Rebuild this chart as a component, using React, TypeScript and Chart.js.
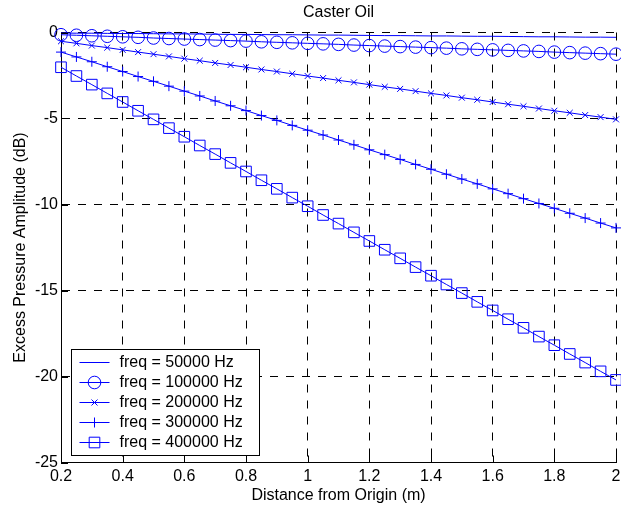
import React, { useEffect, useRef } from "react";
import { Chart, registerables } from "chart.js";

Chart.register(...registerables);

// ---------- data ----------
const distances = [
  0.2, 0.25, 0.3, 0.35, 0.4, 0.45, 0.5, 0.55, 0.6, 0.65, 0.7, 0.75, 0.8, 0.85,
  0.9, 0.95, 1.0, 1.05, 1.1, 1.15, 1.2, 1.25, 1.3, 1.35, 1.4, 1.45, 1.5, 1.55,
  1.6, 1.65, 1.7, 1.75, 1.8, 1.85, 1.9, 1.95, 2.0,
];

const freq50k = [
  -0.03, -0.04, -0.04, -0.05, -0.06, -0.06, -0.07, -0.08, -0.08, -0.09, -0.1,
  -0.11, -0.11, -0.12, -0.13, -0.13, -0.14, -0.15, -0.15, -0.16, -0.17, -0.18,
  -0.18, -0.19, -0.2, -0.2, -0.21, -0.22, -0.22, -0.23, -0.24, -0.25, -0.25,
  -0.26, -0.27, -0.27, -0.28,
];

const freq100k = [
  -0.13, -0.16, -0.19, -0.22, -0.25, -0.28, -0.32, -0.35, -0.38, -0.41, -0.44,
  -0.47, -0.5, -0.54, -0.57, -0.6, -0.63, -0.66, -0.69, -0.73, -0.76, -0.79,
  -0.82, -0.85, -0.88, -0.91, -0.95, -0.98, -1.01, -1.04, -1.07, -1.1, -1.14,
  -1.17, -1.2, -1.23, -1.26,
];

const freq200k = [
  -0.51, -0.63, -0.76, -0.88, -1.01, -1.14, -1.26, -1.39, -1.52, -1.64, -1.77,
  -1.89, -2.02, -2.15, -2.27, -2.4, -2.53, -2.65, -2.78, -2.9, -3.03, -3.16,
  -3.28, -3.41, -3.54, -3.66, -3.79, -3.91, -4.04, -4.17, -4.29, -4.42, -4.55,
  -4.67, -4.8, -4.92, -5.05,
];

const freq300k = [
  -1.14, -1.42, -1.7, -1.99, -2.27, -2.56, -2.84, -3.12, -3.41, -3.69, -3.98,
  -4.26, -4.54, -4.83, -5.11, -5.4, -5.68, -5.96, -6.25, -6.53, -6.82, -7.1,
  -7.38, -7.67, -7.95, -8.24, -8.52, -8.8, -9.09, -9.37, -9.66, -9.94, -10.22,
  -10.51, -10.79, -11.08, -11.36,
];

const freq400k = [
  -2.02, -2.53, -3.03, -3.54, -4.04, -4.55, -5.05, -5.56, -6.06, -6.57, -7.07,
  -7.58, -8.08, -8.59, -9.09, -9.6, -10.1, -10.61, -11.11, -11.62, -12.12,
  -12.63, -13.13, -13.64, -14.14, -14.65, -15.15, -15.66, -16.16, -16.67,
  -17.17, -17.68, -18.18, -18.69, -19.19, -19.7, -20.2,
];

const seriesLabels = [
  "freq = 50000 Hz",
  "freq = 100000 Hz",
  "freq = 200000 Hz",
  "freq = 300000 Hz",
  "freq = 400000 Hz",
];

const xTickValues = [0.2, 0.4, 0.6, 0.8, 1, 1.2, 1.4, 1.6, 1.8, 2];
const xTickLabels = ["0.2", "0.4", "0.6", "0.8", "1", "1.2", "1.4", "1.6", "1.8", "2"];
const yTickValues = [-25, -20, -15, -10, -5, 0];
const yTickLabels = ["-25", "-20", "-15", "-10", "-5", "0"];

const chartTitle = "Caster Oil";
const xAxisTitle = "Distance from Origin (m)";
const yAxisTitle = "Excess Pressure Amplitude (dB)";

// ---------- styles ----------
const BLUE = "rgb(0,0,255)";
const FONT = '"Liberation Sans", Arial, Helvetica, sans-serif';
const markerStyles = ["none", "circle", "crossRot", "cross", "rect"];
const markerRadii = [0, 6.3, 4.2, 5, 7.5];

function drawMarker(ctx: CanvasRenderingContext2D, style: string, x: number, y: number) {
  ctx.beginPath();
  if (style === "circle") {
    ctx.arc(x, y, 6.3, 0, Math.PI * 2);
  } else if (style === "crossRot") {
    const d = 3;
    ctx.moveTo(x - d, y - d);
    ctx.lineTo(x + d, y + d);
    ctx.moveTo(x - d, y + d);
    ctx.lineTo(x + d, y - d);
  } else if (style === "cross") {
    ctx.moveTo(x - 5, y);
    ctx.lineTo(x + 5, y);
    ctx.moveTo(x, y - 5);
    ctx.lineTo(x, y + 5);
  } else if (style === "rect") {
    ctx.rect(x - 5.3, y - 5.3, 10.6, 10.6);
  }
  ctx.stroke();
}

const inwardTicks = {
  id: "inwardTicks",
  afterDatasetsDraw(chart: any) {
    const { ctx, chartArea, scales } = chart;
    ctx.save();
    ctx.setLineDash([]);
    ctx.strokeStyle = "#000";
    ctx.lineWidth = 1;
    ctx.beginPath();
    xTickValues.forEach((v) => {
      const px = Math.round(scales.x.getPixelForValue(v)) + 0.5;
      ctx.moveTo(px, chartArea.bottom);
      ctx.lineTo(px, chartArea.bottom - 7);
    });
    yTickValues.forEach((v) => {
      const py = Math.round(scales.y.getPixelForValue(v)) + 0.5;
      ctx.moveTo(chartArea.left, py);
      ctx.lineTo(chartArea.left + 7, py);
    });
    ctx.stroke();
    ctx.restore();
  },
};

const areaTitle = {
  id: "areaTitle",
  afterDraw(chart: any) {
    const { ctx, chartArea } = chart;
    ctx.save();
    ctx.font = `16px ${FONT}`;
    ctx.fillStyle = "#000";
    ctx.textAlign = "center";
    ctx.textBaseline = "middle";
    ctx.fillText(chartTitle, (chartArea.left + chartArea.right) / 2, chartArea.top - 20);
    ctx.restore();
  },
};

const boxLegend = {
  id: "boxLegend",
  afterDraw(chart: any) {
    const { ctx, chartArea } = chart;
    const left = Math.round(chartArea.left) + 10.5;
    const width = 188;
    const height = 106;
    const top = Math.round(chartArea.bottom) - 8 - height + 0.5;
    ctx.save();
    ctx.setLineDash([]);
    ctx.fillStyle = "#fff";
    ctx.fillRect(left, top, width, height);
    ctx.strokeStyle = "#000";
    ctx.lineWidth = 1;
    ctx.strokeRect(left, top, width, height);
    ctx.font = `16px ${FONT}`;
    ctx.textBaseline = "middle";
    ctx.textAlign = "left";
    seriesLabels.forEach((label, i) => {
      const y = top + 13 + i * 20;
      ctx.strokeStyle = BLUE;
      ctx.beginPath();
      ctx.moveTo(left + 8, y);
      ctx.lineTo(left + 38, y);
      ctx.stroke();
      drawMarker(ctx, markerStyles[i], left + 23, y);
      ctx.fillStyle = "#000";
      ctx.fillText(label, left + 48, y);
    });
    ctx.restore();
  },
};

export default function App() {
  const canvasRef = useRef<HTMLCanvasElement | null>(null);

  useEffect(() => {
    if (!canvasRef.current) return;
    const seriesValues = [freq50k, freq100k, freq200k, freq300k, freq400k];
    const chart = new Chart(canvasRef.current, {
      type: "line",
      data: {
        datasets: seriesValues.map((vals, i) => ({
          label: seriesLabels[i],
          data: distances.map((x, j) => ({ x, y: vals[j] })),
          borderColor: BLUE,
          backgroundColor: "transparent",
          borderWidth: 1,
          pointStyle: markerStyles[i] === "none" ? false : markerStyles[i],
          pointRadius: markerRadii[i],
          pointHoverRadius: markerRadii[i],
          pointBorderWidth: 1,
          pointBorderColor: BLUE,
          pointBackgroundColor: "transparent",
          tension: 0,
          fill: false,
          clip: false,
        })) as any,
      },
      options: {
        responsive: false,
        animation: false,
        events: [],
        layout: { autoPadding: false, padding: { left: 0, right: 5, top: 32.5, bottom: 0 } },
        plugins: {
          legend: { display: false },
          tooltip: { enabled: false },
          title: { display: false },
        },
        scales: {
          x: {
            type: "linear",
            min: 0.2,
            max: 2,
            afterBuildTicks: (scale: any) => {
              scale.ticks = xTickValues.map((v) => ({ value: v }));
            },
            afterFit: (scale: any) => {
              scale.height = 49.5;
              scale.paddingLeft = 0;
              scale.paddingRight = 0;
            },
            ticks: {
              autoSkip: false,
              maxRotation: 0,
              padding: 4,
              color: "#000",
              font: { family: FONT, size: 16 },
              callback: (_v: any, idx: number) => xTickLabels[idx],
            },
            grid: { color: "#000", lineWidth: 1, drawTicks: false },
            border: { display: true, color: "#000", width: 1, dash: [8, 8] },
            title: {
              display: true,
              text: xAxisTitle,
              color: "#000",
              font: { family: FONT, size: 16 },
              padding: { top: 0, bottom: 6.4 },
            },
          },
          y: {
            type: "linear",
            min: -25,
            max: 0,
            afterBuildTicks: (scale: any) => {
              scale.ticks = yTickValues.map((v) => ({ value: v }));
            },
            afterFit: (scale: any) => {
              scale.width = 61;
              scale.paddingTop = 0;
              scale.paddingBottom = 0;
            },
            ticks: {
              padding: 3,
              color: "#000",
              font: { family: FONT, size: 16 },
              callback: (_v: any, idx: number) => yTickLabels[idx],
            },
            grid: { color: "#000", lineWidth: 1, drawTicks: false },
            border: { display: true, color: "#000", width: 1, dash: [8, 8] },
            title: {
              display: true,
              text: yAxisTitle,
              color: "#000",
              font: { family: FONT, size: 16 },
              padding: { top: 11, bottom: 0 },
            },
          },
        },
      },
      plugins: [inwardTicks, areaTitle, boxLegend],
    } as any);
    return () => chart.destroy();
  }, []);

  return (
    <div style={{ position: "fixed", left: 0, top: 0, width: 621, height: 512, background: "#fff" }}>
      <canvas ref={canvasRef} width={621} height={512} style={{ display: "block" }} />
    </div>
  );
}
